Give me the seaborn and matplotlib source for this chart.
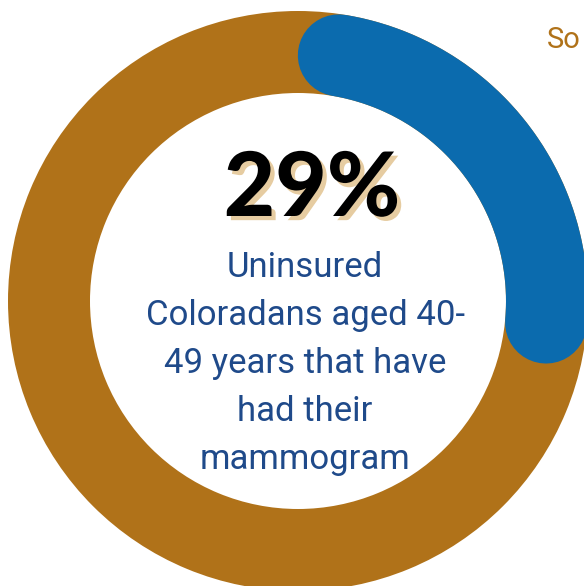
import numpy as np
import matplotlib
matplotlib.use("Agg")
import matplotlib.pyplot as plt
import matplotlib.patheffects as pe
import seaborn as sns

# ---- data ----
pct = 29
big_label = "29%"
caption = ["Uninsured", "Coloradans aged 40-", "49 years that have", "had their", "mammogram"]
source_label = "So"

gold = "#B07219"
blue = "#0B6BAE"
text_blue = "#1F4A8A"
shadow = "#E6CCA1"

sns.set_style("white")
plt.rcParams["font.family"] = ["Roboto", "DejaVu Sans"]

W, H = 584, 586
fig = plt.figure(figsize=(W / 100, H / 100), dpi=100)
ax = fig.add_axes([0, 0, 1, 1])

# ring geometry in pixel units
cx, cy = 298, 301
R_out, ring_w = 290, 82
r_mid = R_out - ring_w / 2

ax.pie([100], radius=R_out, center=(cx, cy), colors=[gold],
       wedgeprops=dict(width=ring_w, linewidth=0))

# blue progress arc with round ends (caps sit inside the 0..pct span)
cap = np.degrees((ring_w / 2) / r_mid)
ang = np.radians(np.linspace(cap, pct / 100 * 360 - cap, 200))
lw_pt = ring_w * 72 / 100
sns.lineplot(x=cx + r_mid * np.sin(ang), y=cy - r_mid * np.cos(ang), ax=ax,
             sort=False, estimator=None, color=blue, linewidth=lw_pt,
             solid_capstyle="round")

ax.set_xlim(0, W)
ax.set_ylim(H, 0)
ax.set_aspect("equal")
ax.axis("off")

ax.text(312, 216, big_label, ha="center", va="baseline", fontsize=64,
        family=["Lato", "DejaVu Sans"], fontweight="black", color="black",
        path_effects=[pe.SimplePatchShadow(offset=(3, -3), shadow_rgbFace=shadow, alpha=1),
                      pe.Normal()])

for i, line in enumerate(caption):
    ax.text(305, 277 + 48 * i, line, ha="center", va="baseline",
            fontsize=25, color=text_blue)

ax.text(547, 48, source_label, ha="left", va="baseline", fontsize=21, color=gold)

fig.savefig("out.png", dpi=100)
